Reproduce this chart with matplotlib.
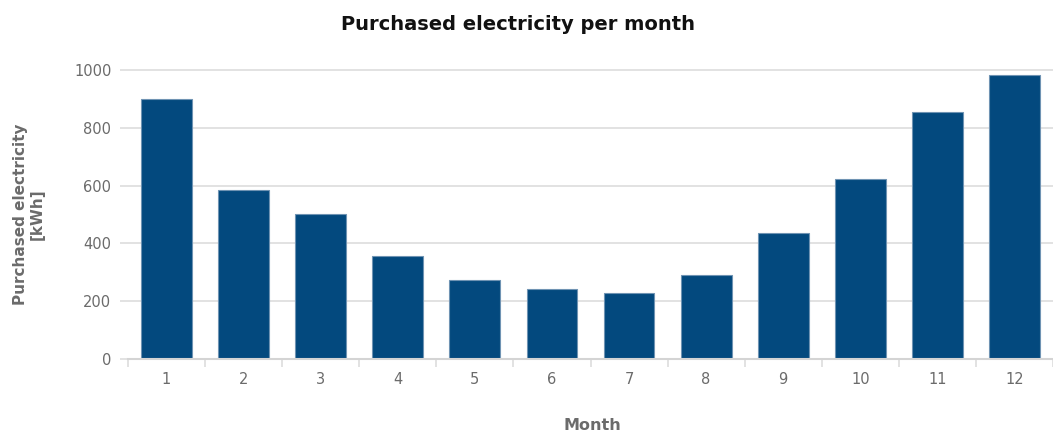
import numpy as np
import matplotlib.pyplot as plt

# Monthly purchased electricity (kWh)
months = [1, 2, 3, 4, 5, 6, 7, 8, 9, 10, 11, 12]
purchased_kwh = [898, 584, 502, 357, 275, 242, 230, 291, 435, 623, 855, 982]
y_ticks = [0, 200, 400, 600, 800, 1000]

bar_color = "#03497e"
edge_color = "#6f93b3"
grid_color = "#dddddd"
text_gray = "#6b6b6b"

fig = plt.figure(figsize=(10.53, 4.37), dpi=100)
W, H = 1053, 437
left, right, bottom, top = 128, 1053, 359, 67.1
ax = fig.add_axes([left / W, (H - bottom) / H, (right - left) / W, (bottom - top) / H])

ax.bar(months, purchased_kwh, width=0.66, color=bar_color,
       edgecolor=edge_color, linewidth=0.8, zorder=3)

ax.set_xlim(0.5, 12.5)
ax.set_ylim(0, 1010)

# category labels centred, tick marks on the boundaries
ax.set_xticks(months)
ax.set_xticklabels([str(m) for m in months])
ax.set_xticks(np.arange(0.5, 13, 1), minor=True)
ax.tick_params(axis="x", which="major", length=0, pad=9,
               labelsize=10.5, labelcolor=text_gray)
ax.tick_params(axis="x", which="minor", length=6, width=1.2,
               color=grid_color, direction="out")

ax.set_yticks(y_ticks)
ax.tick_params(axis="y", length=6, width=1.2, color=grid_color,
               pad=6, labelsize=10.5, labelcolor=text_gray)
ax.yaxis.grid(True, color=grid_color, linewidth=1.2, zorder=0)
ax.set_axisbelow(True)

for side in ("top", "right", "left"):
    ax.spines[side].set_visible(False)
ax.spines["bottom"].set_color("#d4d4d4")
ax.spines["bottom"].set_linewidth(1.5)
ax.spines["bottom"].set_zorder(4)

fig.text(518 / W, 1 - 25 / H,
         "Purchased electricity per month", ha="center", va="center",
         fontsize=14, fontweight="bold", color="#111111")
fig.text(29 / W, 1 - 214 / H, "Purchased electricity\n[kWh]",
         rotation=90, ha="center", va="center", fontsize=11,
         fontweight="bold", color=text_gray, linespacing=1.15)
fig.text(592 / W, 1 - 425 / H, "Month", ha="center", va="center",
         fontsize=11.5, fontweight="bold", color=text_gray)

fig.savefig("out.png", dpi=100)
